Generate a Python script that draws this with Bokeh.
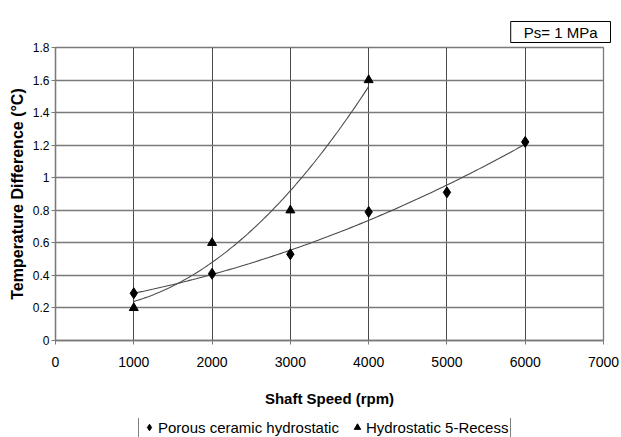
import numpy as np
from bokeh.plotting import figure
from bokeh.layouts import column
from bokeh.models import (Range1d, FixedTicker, NumeralTickFormatter, Legend, LegendItem,
                          Title)
from bokeh.embed import file_html
from bokeh.resources import INLINE

# ---- data ----
speed_porous = [1000, 2000, 3000, 4000, 5000, 6000]
dt_porous = [0.29, 0.41, 0.53, 0.79, 0.91, 1.22]
speed_recess = [1000, 2000, 3000, 4000]
dt_recess = [0.20, 0.60, 0.80, 1.60]
x_ticks = [0, 1000, 2000, 3000, 4000, 5000, 6000, 7000]
y_ticks = [0, 0.2, 0.4, 0.6, 0.8, 1.0, 1.2, 1.4, 1.6, 1.8]
name_porous = "Porous ceramic hydrostatic"
name_recess = "Hydrostatic 5-Recess"
x_title = "Shaft Speed (rpm)"
y_title = "Temperature Difference (°C)"
note = "Ps= 1 MPa"

FONT = "Liberation Sans"
HGRID = "#7a7a7a"
VGRID = "#4a4a4a"

p = figure(frame_width=548, frame_height=293, output_backend="svg", toolbar_location=None,
           x_range=Range1d(0, 7000), y_range=Range1d(0, 1.8), title=None,
           min_border_left=55, min_border_right=18, min_border_top=47, min_border_bottom=78)
p.background_fill_color = "white"
p.border_fill_color = "white"
p.outline_line_color = HGRID
p.outline_line_width = 1.3

# grids
p.ygrid.grid_line_color = HGRID
p.ygrid.grid_line_width = 1.4
p.xgrid.grid_line_color = VGRID
p.xgrid.grid_line_width = 1.0
p.xgrid.ticker = FixedTicker(ticks=x_ticks)
p.ygrid.ticker = FixedTicker(ticks=y_ticks)

# axes
xa = p.xaxis[0]
ya = p.yaxis[0]
xa.ticker = FixedTicker(ticks=x_ticks)
ya.ticker = FixedTicker(ticks=y_ticks)
ya.formatter = NumeralTickFormatter(format="0.[0]")
for ax in (xa, ya):
    ax.axis_line_color = HGRID
    ax.axis_line_width = 1.3
    ax.major_tick_line_color = HGRID
    ax.major_tick_in = 0
    ax.major_tick_out = 4
    ax.minor_tick_line_color = None
    ax.major_label_text_font = FONT
    ax.major_label_text_color = "black"
    ax.axis_label_text_font = FONT
    ax.axis_label_text_font_style = "bold"
    ax.axis_label_text_color = "black"
xa.major_label_text_font_size = "14px"
xa.major_label_standoff = 12
xa.axis_label = x_title
xa.axis_label_text_font_size = "15px"
xa.axis_label_standoff = 20
ya.major_label_text_font_size = "12px"
ya.major_label_standoff = 2
ya.axis_label = y_title
ya.axis_label_text_font_size = "16px"
ya.axis_label_standoff = 4

# trend lines (2nd order polynomial fits, as in the original)
cp = np.polyfit(speed_porous, dt_porous, 2)
xs_p = np.linspace(min(speed_porous), max(speed_porous), 120)
cr = np.polyfit(speed_recess, dt_recess, 2)
xs_r = np.linspace(min(speed_recess), max(speed_recess), 120)
p.line(xs_p, np.polyval(cp, xs_p), line_color="#4a4a4a", line_width=1.1)
p.line(xs_r, np.polyval(cr, xs_r), line_color="#4a4a4a", line_width=1.1)

p.scatter(speed_porous, dt_porous, marker="diamond", size=11, color="black")
p.scatter(speed_recess, dt_recess, marker="triangle", size=9, color="black")

t = Title(text=note, align="right", text_font=FONT, text_font_size="15px",
          text_font_style="normal", text_color="black",
          border_line_color="black", border_line_width=1,
          background_fill_color="white", standoff=10, offset=-7,
          padding=dict(left=13, right=13, top=2, bottom=2))
p.add_layout(t, "above")

# legend strip below the chart (cut at the bottom, as in the original)
lg = figure(width=621, height=19, output_backend="svg", toolbar_location=None,
            x_range=Range1d(0, 1), y_range=Range1d(0, 1),
            min_border_left=0, min_border_right=0, min_border_top=0, min_border_bottom=0)
lg.axis.visible = False
lg.grid.visible = False
lg.outline_line_color = None
lg.background_fill_color = "white"
lg.border_fill_color = "white"
d1 = lg.scatter([-5], [-5], marker="diamond", size=11, color="black")
d2 = lg.scatter([-5], [-5], marker="triangle", size=9, color="black")
legend = Legend(items=[LegendItem(label=name_porous, renderers=[d1]),
                       LegendItem(label=name_recess, renderers=[d2])],
                orientation="horizontal", location=(83, -3))
legend.label_text_font = FONT
legend.label_text_font_size = "15px"
legend.label_text_color = "black"
legend.glyph_width = 16
legend.glyph_height = 20
legend.label_height = 14
legend.label_standoff = 1
legend.spacing = 10
legend.padding = 2
legend.margin = 0
legend.border_line_color = "black"
legend.border_line_width = 1
legend.background_fill_color = "white"
lg.add_layout(legend, "center")

layout = column(p, lg, spacing=0)
open("out.html", "w").write(file_html(layout, INLINE))
